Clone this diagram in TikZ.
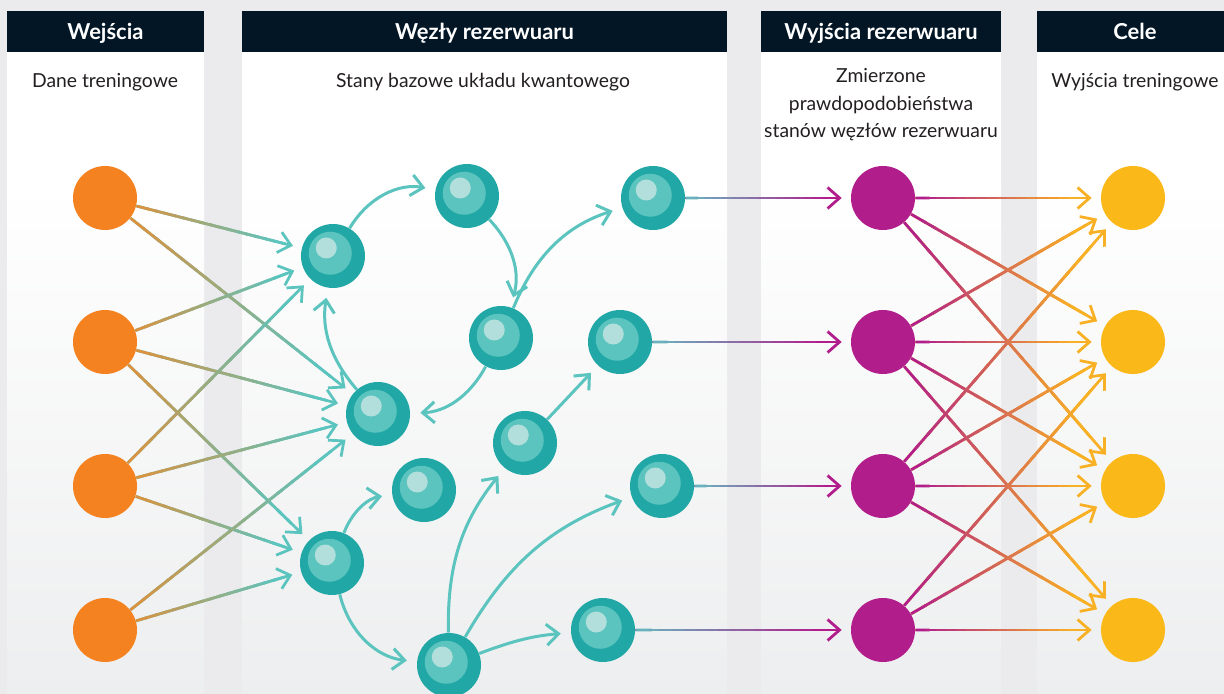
\documentclass[tikz,border=0pt]{standalone}
\usepackage{fontspec}
\setmainfont{Lato}
\usetikzlibrary{positioning}
\usetikzlibrary{arrows.meta, calc}
\definecolor{gutter}{RGB}{235, 235, 237}
\definecolor{panelbot}{RGB}{237, 238, 239}
\definecolor{navyhd}{RGB}{2, 22, 38}
\definecolor{textgray}{RGB}{35, 31, 32}
\definecolor{orangein}{RGB}{245, 130, 32}
\definecolor{tealdark}{RGB}{33, 168, 166}
\definecolor{tealmid}{RGB}{92, 196, 190}
\definecolor{teallight}{RGB}{178, 223, 219}
\definecolor{magout}{RGB}{177, 30, 140}
\definecolor{yellowtg}{RGB}{251, 184, 25}
\definecolor{wireorange}{RGB}{218, 146, 62}
\definecolor{wireteal}{RGB}{104, 180, 190}
\definecolor{wireyellow}{RGB}{248, 176, 36}

% przejście koloru wzdłuż strzałki: od, do, kolor startowy, kolor końcowy
\newcommand{\gradwire}[4]{%
  \path (#1) -- (#2) coordinate[pos=0] (gs) coordinate[pos=1] (ge);
  \draw[wire, #4] (gs) -- (ge);
  \foreach \k in {0,...,15} {
    \pgfmathtruncatemacro{\mix}{100-\k*100/15}
    \pgfmathsetmacro{\ga}{\k*0.055}
    \pgfmathsetmacro{\gb}{(\k+1.4)*0.055}
    \draw[line width=0.55mm, draw=#3!\mix!#4] ($(gs)!\ga!(ge)$) -- ($(gs)!\gb!(ge)$);
  }
}

\begin{document}
\begin{tikzpicture}[x=0.2mm, y=-0.2mm,
    header/.style={fill=navyhd, text=white, font=\fontsize{12.5}{15}\selectfont\bfseries,
      minimum height=8.2mm, inner sep=0pt, text height=12pt, text depth=2.4pt},
    subtitle/.style={text=textgray, font=\fontsize{11}{15.6}\selectfont, align=center, inner sep=0pt},
    innode/.style={circle, fill=orangein, minimum size=12.8mm, inner sep=0pt},
    outnode/.style={circle, fill=magout, minimum size=12.8mm, inner sep=0pt},
    tgnode/.style={circle, fill=yellowtg, minimum size=12.8mm, inner sep=0pt},
    ball/.style={circle, fill=tealdark, minimum size=12.8mm, inner sep=0pt,
      path picture={
        \fill[tealmid] ([shift={(-0.55mm,0.55mm)}]path picture bounding box.center) circle[radius=4.3mm];
        \fill[teallight] ([shift={(-1.35mm,1.6mm)}]path picture bounding box.center) circle[radius=2.1mm];
      }},
    wire/.style={line width=0.55mm, -{Straight Barb[length=2.4mm, width=4.2mm]}, shorten >=1.8mm},
    curve/.style={draw=tealmid, line width=0.6mm, -{Straight Barb[length=2.4mm, width=4.2mm]}, shorten >=2mm}]

    \useasboundingbox (0,0) rectangle (1224,694);

    % tło i kolumny
    \fill[gutter] (0,0) rectangle (1224,694);
    \foreach \xa/\xb in {7/204, 242/727, 761/1001, 1037/1224} {
        \fill[white] (\xa,52) rectangle (\xb,186);
        \shade[top color=white, bottom color=panelbot] (\xa,185) rectangle (\xb,694);
    }

    % nagłówki
    \node[header, minimum width=39.4mm] (hin) at (105.5,31.5) {Wejścia};
    \node[header, minimum width=97mm] (hres) at (484.5,31.5) {Węzły rezerwuaru};
    \node[header, minimum width=48mm] (hout) at (881,31.5) {Wyjścia rezerwuaru};
    \node[header, minimum width=39.2mm] (htg) at (1135,31.5) {Cele};

    % podpisy
    \node[subtitle] (tin) at (105,82) {Dane treningowe};
    \node[subtitle] (tres) at (483,82) {Stany bazowe układu kwantowego};
    \node[subtitle] (tout) at (881,105) {Zmierzone\\prawdopodobieństwa\\stanów węzłów rezerwuaru};
    \node[subtitle] (ttg) at (1135,82) {Wyjścia treningowe};

    % wejścia
    \node[innode] (i1) at (105,198) {};
    \node[innode] (i2) at (105,342) {};
    \node[innode] (i3) at (105,486) {};
    \node[innode] (i4) at (105,630) {};

    % węzły rezerwuaru
    \node[ball] (r1) at (333,256) {};
    \node[ball] (r2) at (467,196) {};
    \node[ball] (r3) at (501,338) {};
    \node[ball] (r4) at (378,414) {};
    \node[ball] (r5) at (424,490) {};
    \node[ball] (r6) at (525,443) {};
    \node[ball] (r7) at (449,665) {};
    \node[ball] (r8) at (603,630) {};
    \node[ball] (r9) at (662,486) {};
    \node[ball] (r10) at (653,198) {};
    \node[ball] (r11) at (620,342) {};
    \node[ball] (r12) at (332,563) {};

    % wyjścia rezerwuaru
    \node[outnode] (o1) at (883,198) {};
    \node[outnode] (o2) at (883,342) {};
    \node[outnode] (o3) at (883,486) {};
    \node[outnode] (o4) at (883,630) {};

    % cele
    \node[tgnode] (t1) at (1133,198) {};
    \node[tgnode] (t2) at (1133,342) {};
    \node[tgnode] (t3) at (1133,486) {};
    \node[tgnode] (t4) at (1133,630) {};

    % wejścia -> rezerwuar
    \gradwire{i1}{r1}{wireorange}{tealmid}
    \gradwire{i1}{r4}{wireorange}{tealmid}
    \gradwire{i2}{r1}{wireorange}{tealmid}
    \gradwire{i2}{r4}{wireorange}{tealmid}
    \gradwire{i2}{r12}{wireorange}{tealmid}
    \gradwire{i3}{r1}{wireorange}{tealmid}
    \gradwire{i3}{r4}{wireorange}{tealmid}
    \gradwire{i3}{r12}{wireorange}{tealmid}
    \gradwire{i4}{r4}{wireorange}{tealmid}
    \gradwire{i4}{r12}{wireorange}{tealmid}

    % połączenia wewnątrz rezerwuaru
    \draw[curve] (r1) to[bend left=35] (r2);
    \draw[curve] (r2) to[bend left=30] (r3);
    \draw[curve] (r3) to[bend left=25] (r10);
    \draw[curve] (r3) to[bend left=30] (r4);
    \draw[curve] (r4) to[bend left=25] (r1);
    \draw[curve] (r12) to[bend left=30] (r5);
    \draw[curve] (r12) to[bend right=35] (r7);
    \draw[curve] (r7) to[bend left=20] (r6);
    \draw[curve] (r7) to[bend left=20] (r9);
    \draw[curve] (r7) to[bend left=8] (r8);
    \draw[curve] (r6) -- (r11);

    % rezerwuar -> wyjścia
    \gradwire{r10}{o1}{wireteal}{magout}
    \gradwire{r11}{o2}{wireteal}{magout}
    \gradwire{r9}{o3}{wireteal}{magout}
    \gradwire{r8}{o4}{wireteal}{magout}

    % wyjścia -> cele
    \gradwire{o1}{t1}{magout}{wireyellow}
    \gradwire{o1}{t2}{magout}{wireyellow}
    \gradwire{o1}{t3}{magout}{wireyellow}
    \gradwire{o2}{t1}{magout}{wireyellow}
    \gradwire{o2}{t2}{magout}{wireyellow}
    \gradwire{o2}{t3}{magout}{wireyellow}
    \gradwire{o2}{t4}{magout}{wireyellow}
    \gradwire{o3}{t1}{magout}{wireyellow}
    \gradwire{o3}{t2}{magout}{wireyellow}
    \gradwire{o3}{t3}{magout}{wireyellow}
    \gradwire{o3}{t4}{magout}{wireyellow}
    \gradwire{o4}{t2}{magout}{wireyellow}
    \gradwire{o4}{t3}{magout}{wireyellow}
    \gradwire{o4}{t4}{magout}{wireyellow}
\end{tikzpicture}
\end{document}
